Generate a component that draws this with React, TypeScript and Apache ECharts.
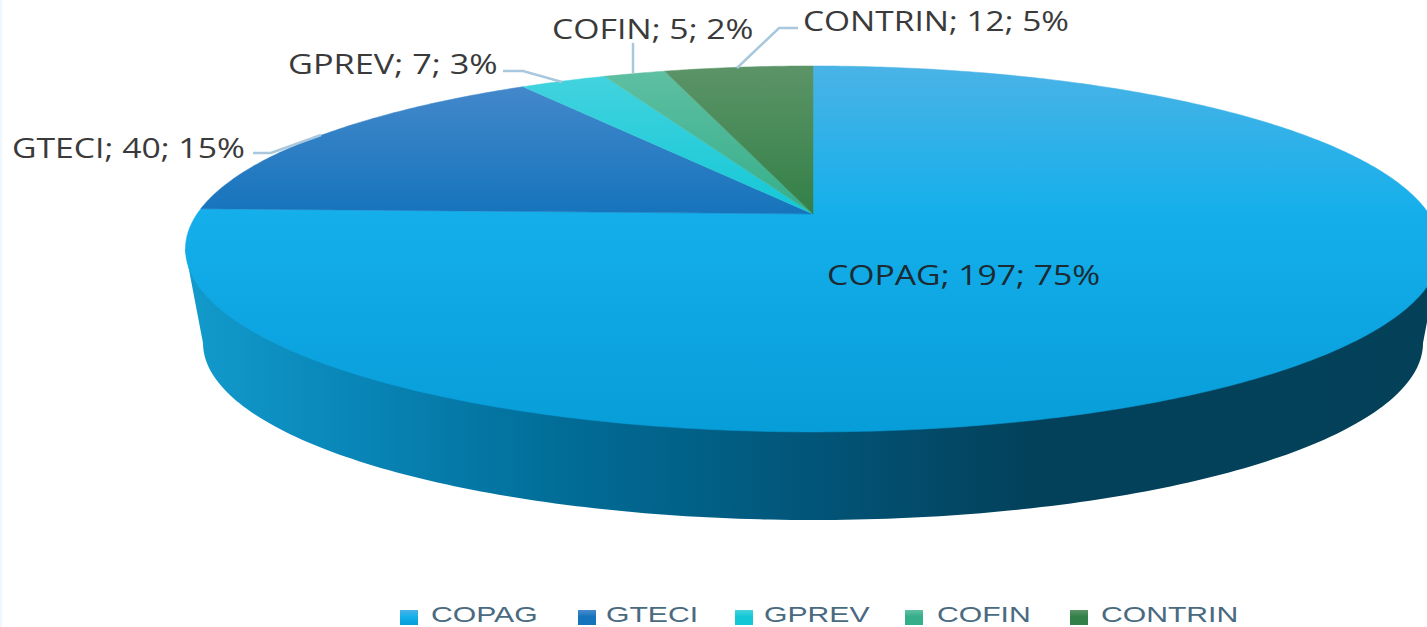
import React, { useEffect, useRef } from "react";
import * as echarts from "echarts";

const categories = ["COPAG", "GTECI", "GPREV", "COFIN", "CONTRIN"];
const seriesValues = [197, 40, 7, 5, 12];

// styling and layout, separate from the data
const topColors = [
  ["#4ab3e6", "#14afeb", "#079dd9"],
  ["#4a8bcd", "#1674bc", "#1674bc"],
  ["#45d4df", "#14c7d6", "#14c7d6"],
  ["#5fc0a2", "#35ae8a", "#35ae8a"],
  ["#5c9467", "#338048", "#338048"],
];
const labelLayout = [
  { x: 827, y: 274, scaleX: 1.25, fill: "#1c2b33" },
  { x: 12, y: 147, scaleX: 1.25, fill: "#3a3a3a" },
  { x: 288, y: 64, scaleX: 1.27, fill: "#3a3a3a" },
  { x: 552, y: 28, scaleX: 1.25, fill: "#3a3a3a" },
  { x: 803, y: 20, scaleX: 1.24, fill: "#3a3a3a" },
];
const leaderLines = [
  null,
  [[253, 153], [271, 153], [321, 135]],
  [[503, 71], [523, 71], [562, 82]],
  [[633, 43], [633, 73]],
  [[798, 28], [779, 28], [737, 68]],
];
const legendSwatchX = [400, 578, 735, 905, 1070];
const legendTextX = [431, 606, 764, 937, 1101];

const APEX_X = 813;
const APEX_Y = 214;
const A = 616;
const B = 176.3;
const K = 0.191;

function rim(t: number): number[] {
  const u = Math.sin(t);
  const v = Math.cos(t);
  const d = 1 + K * v;
  return [APEX_X + (A * u) / d, APEX_Y - (B * v) / d];
}

const total = seriesValues.reduce((a, b) => a + b, 0);

function wedgeSeries(index: number) {
  const before = seriesValues.slice(0, index).reduce((a, b) => a + b, 0);
  return {
    type: "custom",
    name: categories[index],
    coordinateSystem: "none",
    silent: true,
    data: [[seriesValues[index], before]],
    renderItem: (_p: any, api: any) => {
      const value = api.value(0) as number;
      const start = api.value(1) as number;
      const t0 = (start / total) * Math.PI * 2;
      const t1 = ((start + value) / total) * Math.PI * 2;
      const n = Math.max(8, Math.ceil((t1 - t0) * 90));
      const pts: number[][] = [[APEX_X, APEX_Y]];
      for (let i = 0; i <= n; i++) pts.push(rim(t0 + ((t1 - t0) * i) / n));
      const c = topColors[index];
      const midOffset = (APEX_Y - 66) / (432 - 66);
      const fill = new echarts.graphic.LinearGradient(
        0, 66, 0, 432,
        [
          { offset: 0, color: c[0] },
          { offset: midOffset, color: c[1] },
          { offset: 1, color: c[2] },
        ],
        true
      );
      const children: any[] = [
        { type: "polygon", shape: { points: pts }, style: { fill, stroke: fill, lineWidth: 0.5 } },
      ];
      const line = leaderLines[index];
      if (line) {
        children.push({
          type: "polyline",
          shape: { points: line },
          style: { fill: "none", stroke: "#a9c8de", lineWidth: 2.5 },
        });
      }
      const lay = labelLayout[index];
      const pct = Math.round((value / total) * 100);
      children.push({
        type: "text",
        x: lay.x,
        y: lay.y,
        scaleX: lay.scaleX,
        style: {
          text: `${categories[index]}; ${value}; ${pct}%`,
          fill: lay.fill,
          fontFamily: "Open Sans",
          fontSize: 27,
          textAlign: "left",
          textVerticalAlign: "middle",
        },
      });
      return { type: "group", children };
    },
  };
}

const wallSeries = {
  type: "custom",
  name: "wall",
  coordinateSystem: "none",
  silent: true,
  data: [[total]],
  renderItem: () => {
    const cx = 813;
    const cy = 343;
    const rx = 610;
    const ry = 177;
    const pts: number[][] = [[185, 249]];
    for (let i = 0; i <= 180; i++) {
      const a = Math.PI - (Math.PI * i) / 180;
      pts.push([cx + rx * Math.cos(a), cy + ry * Math.sin(a)]);
    }
    pts.push([1441, 249]);
    const off = (x: number) => (x - 185) / (1441 - 185);
    const fill = new echarts.graphic.LinearGradient(
      185, 0, 1441, 0,
      [
        { offset: 0, color: "#129bcc" },
        { offset: off(350), color: "#0986b8" },
        { offset: off(570), color: "#016c96" },
        { offset: off(800), color: "#02567a" },
        { offset: off(1030), color: "#03415b" },
        { offset: 1, color: "#044159" },
      ],
      true
    );
    return { type: "polygon", shape: { points: pts }, style: { fill } };
  },
};

const legendGraphics = categories.flatMap((name, i) => [
  {
    type: "rect",
    silent: true,
    shape: { x: legendSwatchX[i], y: 610, width: 18, height: 15 },
    style: {
      fill: new echarts.graphic.LinearGradient(0, 0, 0, 1, [
        { offset: 0, color: topColors[i][0] },
        { offset: 0.45, color: topColors[i][1] },
        { offset: 1, color: topColors[i][2] },
      ]),
    },
  },
  {
    type: "text",
    silent: true,
    x: legendTextX[i],
    y: 614,
    scaleX: 1.37,
    style: {
      text: name,
      fill: "#4a6a80",
      fontFamily: "Liberation Sans",
      fontSize: 22,
      textAlign: "left",
      textVerticalAlign: "middle",
    },
  },
]);

export default function App() {
  const ref = useRef<HTMLDivElement>(null);
  useEffect(() => {
    const chart = echarts.init(ref.current!, undefined, { renderer: "svg" });
    chart.setOption({
      animation: false,
      backgroundColor: "#ffffff",
      graphic: [
        {
          type: "rect",
          shape: { x: 0, y: 0, width: 2, height: 627 },
          style: { fill: "#f1f8fd" },
          silent: true,
        },
        ...legendGraphics,
      ],
      series: [wallSeries, ...categories.map((_, i) => wedgeSeries(i))],
    });
    return () => chart.dispose();
  }, []);
  return (
    <div
      ref={ref}
      style={{ position: "fixed", left: 0, top: 0, width: 1427, height: 627 }}
    />
  );
}
